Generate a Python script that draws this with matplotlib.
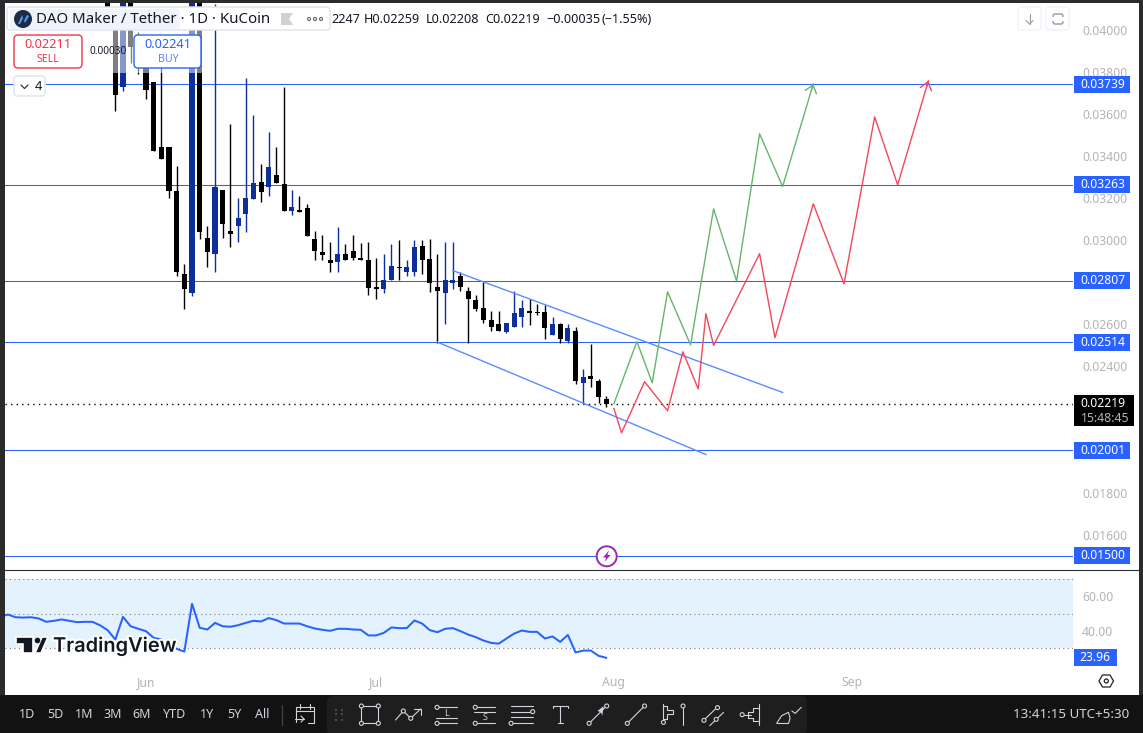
import matplotlib
matplotlib.use("Agg")
import matplotlib.pyplot as plt
import matplotlib.patheffects as pe
from matplotlib.patches import Rectangle, FancyBboxPatch, Circle, Polygon
import numpy as np

plt.rcParams['font.family'] = ['Noto Sans', 'DejaVu Sans']

# ---------- data ----------
day_index = list(range(-5, 61))
opens = [.04150,.04048,.03729,.04150,.03953,.03858,.03753,.03440,.03440,.03235,.02841,.02746,.04150,.03012,.02936,
         .03240,.03045,.03069,.03126,.03197,.03278,.03250,.03307,.03264,.03140,.03145,.03150,.03007,.02941,.02903,
         .02898,.02936,.02950,.02917,.02907,.02775,.02765,.02808,.02870,.02850,.02850,.02974,.02912,.02779,.02746,
         .02794,.02827,.02760,.02713,.02679,.02618,.02599,.02561,.02585,.02632,.02665,.02656,.02656,.02547,.02603,
         .02518,.02566,.02323,.02352,.02328,.02247]
highs = [.04180,.04048,.04180,.04180,.03990,.03905,.03753,.03820,.03440,.03354,.02884,.04180,.04180,.03069,.04120,
         .03240,.03549,.03202,.03772,.03596,.03359,.03511,.03444,.03729,.03240,.03207,.03169,.03045,.03026,.02993,
         .03060,.02983,.03026,.02988,.02993,.02917,.02936,.02983,.02998,.02903,.02998,.02998,.03003,.02936,.02993,
         .02993,.02850,.02779,.02737,.02803,.02665,.02665,.02608,.02756,.02713,.02722,.02694,.02689,.02632,.02608,
         .02599,.02585,.02385,.02504,.02342,.02259]
lows = [.04086,.03615,.03710,.03843,.03791,.03672,.03421,.03387,.03202,.02831,.02670,.02732,.03007,.02874,.02846,
        .03012,.02969,.02993,.03040,.03197,.03183,.03207,.03269,.03136,.03121,.03131,.03021,.02903,.02903,.02846,
        .02846,.02903,.02907,.02903,.02737,.02718,.02746,.02808,.02808,.02831,.02831,.02841,.02751,.02513,.02603,
        .02765,.02756,.02513,.02661,.02608,.02570,.02570,.02556,.02585,.02589,.02594,.02646,.02532,.02547,.02513,
        .02509,.02318,.02224,.02304,.02224,.02208]
closes = [.04086,.03691,.04150,.03915,.03858,.03715,.03425,.03387,.03231,.02846,.02765,.04150,.03040,.02941,.03254,
          .03074,.03031,.03107,.03202,.03269,.03226,.03349,.03269,.03136,.03159,.03131,.03021,.02950,.02927,.02893,
          .02936,.02903,.02917,.02903,.02770,.02765,.02812,.02879,.02865,.02870,.02965,.02907,.02798,.02760,.02808,
          .02812,.02775,.02718,.02670,.02622,.02589,.02570,.02608,.02651,.02675,.02651,.02651,.02580,.02599,.02532,
          .02580,.02328,.02347,.02342,.02252,.02219]

level_values = [.03739, .03263, .02807, .02514, .02001, .01500]
level_labels = ["0.03739", "0.03263", "0.02807", "0.02514", "0.02001", "0.01500"]
last_price = .02219
price_ticks = [.040,.038,.036,.034,.032,.030,.026,.024,.018,.016]
legend_items = ["2247", "H0.02259", "L0.02208", "C0.02219", "−0.00035", "(−1.55%)"]

channel_upper_x = [40, 83]
channel_upper_y = [.02855, .02276]
channel_lower_x = [38, 73]
channel_lower_y = [.02515, .01981]

green_x = [61, 64, 66, 68, 71, 74, 77, 80, 83, 87]
green_y = [.02222,.02518,.02322,.02754,.02502,.03148,.02806,.03505,.03254,.03742]
red_x = [61, 62, 65, 68, 70, 72, 73, 74, 80, 82, 87, 91, 95, 98, 102]
red_y = [.02200,.02084,.02327,.02189,.02469,.02293,.02650,.02499,.02935,.02536,.03172,.02792,.03585,.03262,.03756]

rsi_x = list(range(-19, 61))
rsi_y = [48.0,49.4,47.8,47.6,47.8,47.1,45.1,45.7,46.5,45.7,44.9,45.1,45.1,43.1,40.2,34.7,48.0,42.5,41.0,
         39.6,35.7,34.7,32.7,29.2,27.6,55.7,41.6,40.6,44.5,42.5,42.2,43.1,44.5,45.7,45.3,47.3,46.1,44.1,44.1,44.1,
         42.5,41.2,40.4,39.8,41.0,41.0,40.6,40.4,37.1,37.1,38.6,41.8,41.4,41.4,45.9,44.1,40.2,39.0,41.0,41.4,39.6,
         37.6,36.1,34.1,32.7,32.3,35.3,38.2,40.0,39.2,39.2,35.3,36.5,33.3,37.4,27.1,28.2,28.2,25.1,23.96]
rsi_ticks = [60, 40]
month_ticks = [0, 30, 61, 92]
month_labels = ["Jun", "Jul", "Aug", "Sep"]
range_buttons = ["1D", "5D", "1M", "3M", "6M", "YTD", "1Y", "5Y", "All"]

# ---------- palette ----------
BLUE = "#2962ff"; DARKBLUE = "#0d2f9a"; CH = "#5c8bff"
GREEN = "#66b56b"; RED = "#f4475a"; GRAY = "#b4b4b4"; FRAME = "#2b2b2b"; BAR = "#121212"
W, H = 1143, 733

fig = plt.figure(figsize=(W/100, H/100), dpi=100, facecolor=FRAME)

def axes_px(l, t, r, b, **kw):
    return fig.add_axes([l/W, 1-b/H, (r-l)/W, (b-t)/H], **kw)

L, R = 5, 1073
PX_DAY = 7.67
xlim = ((L-146)/PX_DAY, (R-146)/PX_DAY)

# white backing of the chart, price axis included
bg = axes_px(L, 3, 1139, 695); bg.axis("off"); bg.add_patch(Rectangle((0,0),1,1,transform=bg.transAxes,fc="white",ec="none"))

# ---------- price pane ----------
ax = axes_px(L, 2.5, R, 568.5, facecolor="none")
ax.set_xlim(*xlim); ax.set_ylim(.014397, .041283)
for s in ax.spines.values(): s.set_visible(False)
ax.set_xticks([])
ax.yaxis.tick_right()
ax.set_yticks(price_ticks, [f"{v:.5f}" for v in price_ticks])
ax.tick_params(axis="y", length=0, pad=6.5, labelcolor=GRAY, labelsize=8.8)

for v in level_values:
    ax.axhline(v, color=BLUE, lw=0.75, zorder=1)
ax.axhline(last_price, color="black", lw=1.0, ls=(0, (1, 3)), zorder=1)

o, h, l, c = map(np.array, (opens, highs, lows, closes))
x = np.array(day_index)
cols = [DARKBLUE if cc > oo else "black" for oo, cc in zip(o, c)]
ax.vlines(x, l, h, colors=cols, lw=1.0, zorder=3)
ax.bar(x, np.maximum(np.abs(c-o), .00006), bottom=np.minimum(o, c), width=0.66, color=cols, zorder=3, linewidth=0)

ax.plot(channel_upper_x, channel_upper_y, color=CH, lw=1.0, zorder=4)
ax.plot(channel_lower_x, channel_lower_y, color=CH, lw=1.0, zorder=4)
ax.plot(green_x, green_y, color=GREEN, lw=1.0, zorder=5)
ax.plot(red_x, red_y, color=RED, lw=1.0, zorder=5)
for xs, ys, col in ((green_x, green_y, GREEN), (red_x, red_y, RED)):
    start = (xs[-1] - 0.06*(xs[-1]-xs[-2]), ys[-1] - 0.06*(ys[-1]-ys[-2]))
    ax.annotate("", xy=(xs[-1], ys[-1]), xytext=start, zorder=5,
                arrowprops=dict(arrowstyle="->,head_length=0.45,head_width=0.35", color=col, lw=1.0,
                                shrinkA=0, shrinkB=0, mutation_scale=12))

# ---------- RSI pane ----------
ax2 = axes_px(L, 569.5, R, 667.5, facecolor="none")
ax2.set_xlim(*xlim); ax2.set_ylim(18.24, 75.88)
for s in ax2.spines.values(): s.set_visible(False)
ax2.axhspan(30, 70, color="#e3f2fd", lw=0, zorder=1)
for v in (70, 50, 30):
    ax2.axhline(v, color="#787b86", lw=0.8, ls=(0, (1, 3)), zorder=2)
ax2.plot(rsi_x, rsi_y, color=BLUE, lw=1.45, zorder=3)
ax2.yaxis.tick_right()
ax2.set_yticks(rsi_ticks, [f"{v:.2f}" for v in rsi_ticks])
ax2.tick_params(axis="y", length=0, pad=6.5, labelcolor=GRAY, labelsize=8.8)
ax2.set_xticks(month_ticks, month_labels)
ax2.tick_params(axis="x", length=0, pad=6, labelcolor=GRAY, labelsize=8.8)
for t in ax2.get_xticklabels(): t.set_fontweight("bold")

# ---------- chrome overlay in pixel coordinates ----------
ui = fig.add_axes([0, 0, 1, 1], facecolor="none", zorder=10)
ui.set_xlim(0, W); ui.set_ylim(H, 0); ui.axis("off")

def rbox(x0, y0, x1, y1, fc="white", ec="none", r=3, lw=1.0, z=2, alpha=None):
    ui.add_patch(FancyBboxPatch((x0+r, y0+r), x1-x0-2*r, y1-y0-2*r, boxstyle=f"round,pad={r},rounding_size={r}",
                                fc=fc, ec=ec, lw=lw, zorder=z, alpha=alpha))
def txt(x, y, s, size=9, color="#131722", ha="center", weight="normal", z=6, **kw):
    return ui.text(x, y, s, fontsize=size, color=color, ha=ha, va="center", fontweight=weight, zorder=z, **kw)
def seg(xs, ys, color="#d1d4dc", lw=0.8, z=6):
    ui.plot(xs, ys, color=color, lw=lw, zorder=z, solid_capstyle="round")
def dot(x, y, r=2.0, ec="#d1d4dc", fc=BAR, lw=0.8, z=7):
    ui.add_patch(Circle((x, y), r, fc=fc, ec=ec, lw=lw, zorder=z))

# separator, frame, bottom bar
ui.plot([L, 1139], [569.5, 569.5], color="#2a2e39", lw=0.8, zorder=1)
ui.add_patch(Rectangle((0, 695), W, 38, fc=BAR, ec="none", zorder=1))

# price labels on the axis, positioned through the price scale
def py(v):
    return H - ax.transData.transform((0, v))[1]
for v, s in zip(level_values, level_labels):
    yy = py(v)
    ui.add_patch(Rectangle((1074, yy-8.5), 56, 17, fc=BLUE, ec="none", zorder=3))
    txt(1103, yy-0.3, s, 8.7, "white", weight="bold")
yy = py(last_price)
ui.add_patch(Rectangle((1074, yy-9), 60, 31, fc="black", ec="none", zorder=3))
txt(1103, yy-1, f"{last_price:.5f}", 8.7, "white", weight="bold")
txt(1105, yy+14, "15:48:45", 8.8, "#b4b4b4")
ry = H - ax2.transData.transform((0, rsi_y[-1]))[1]
ui.add_patch(Rectangle((1074, ry-8.5), 42.5, 17, fc=BLUE, ec="none", zorder=3))
txt(1095, ry-0.3, f"{rsi_y[-1]:.2f}", 8.7, "white", weight="bold")

# translucent legend veil and header
ui.add_patch(Rectangle((8, 30), 197, 43, fc="white", ec="none", alpha=0.5, zorder=1))
rbox(7, 7, 330, 30, fc="white", ec="#e0e3eb", r=3, z=2)
rbox(10, 9, 180, 29, fc="#f0f3fa", r=3, z=3)
ui.add_patch(Circle((23, 19), 9, fc="#1e2a4a", ec="none", zorder=4))
ui.add_patch(Polygon([[18,24],[22,15],[24,21],[27,15],[29,16],[25,23],[23,18],[20,24]], fc="#4aa3f0", ec="none", zorder=5))
txt(36, 19.5, "DAO Maker / Tether · 1D · KuCoin", 10.8, ha="left")
ui.add_patch(Polygon([[281,13],[293,13],[289,19],[293,25],[281,25]], fc="#d1d1d1", ec="none", zorder=5))
for cx in (309, 315, 321):
    ui.add_patch(Circle((cx, 19), 1.5, fc="white", ec="#666666", lw=0.8, zorder=5))
for lx, s in zip((331, 364, 426, 485, 546, 602), legend_items):
    txt(lx, 19.5, s, 9.1, ha="left")

rbox(14, 35, 82, 68, fc="white", ec="#f23645", r=4, lw=1.0)
txt(48, 45, "0.02211", 9.2, "#f23645", weight="bold"); txt(48, 59, "SELL", 7.6, "#f23645")
txt(108, 51.5, "0.00030", 7.2, "#131722")
rbox(134, 35, 201, 68, fc="white", ec=BLUE, r=4, lw=1.0)
txt(168, 45, "0.02241", 9.2, BLUE, weight="bold"); txt(168, 59, "BUY", 7.6, "#5b86ff")
rbox(14, 76, 45, 96, fc="white", ec="#e0e3eb", r=3)
seg([21, 24.5, 28], [85, 88.5, 85], color="#333333", lw=0.9)
txt(38, 86.5, "4", 9.2)

# top-right buttons
for x0 in (1018, 1046):
    rbox(x0, 7, x0+23, 30, fc="white", ec="#f0f3fa", r=3)
seg([1029.5, 1029.5], [14, 24], color="#9a9a9a"); seg([1026, 1029.5, 1033], [20.5, 24, 20.5], color="#9a9a9a")
rbox(1053, 14, 1063, 24, fc="white", ec="#9a9a9a", r=2)
ui.add_patch(Rectangle((1051, 17), 14, 4, fc="white", ec="none", zorder=5))

# lightning marker
ui.add_patch(Circle((606.7, 556.3), 10, fc="white", ec="#9c27b0", lw=1.4, zorder=4))
ui.add_patch(Polygon([[609,550.5],[603,557.5],[606.2,557.5],[604.5,562],[610.5,555],[607.4,555]], fc="#9c27b0", ec="none", zorder=5))

# TradingView mark
wm = txt(53, 646.5, "TradingView", 14.4, "#131722", ha="left", weight="semibold", family=["Inter", "DejaVu Sans"])
wm.set_path_effects([pe.withStroke(linewidth=3, foreground="white")])
for pts in ([[16,637],[33,637],[33,653],[23,653],[23,644],[16,644]], [[35,653],[42,637],[48,637],[41,653]]):
    ui.add_patch(Polygon(pts, fc="#131722", ec="white", lw=1.2, zorder=6))
ui.add_patch(Circle((37.5, 640.5), 2.8, fc="#131722", ec="none", zorder=7))

# settings hexagon
ui.add_patch(Polygon([[1099,681],[1102.5,675],[1110,675],[1113.5,681],[1110,687],[1102.5,687]], fc="white", ec="#222222", lw=0.9, zorder=5))
ui.add_patch(Circle((1106.3, 681), 2, fc="white", ec="#222222", lw=0.9, zorder=6))

# bottom bar text
for bx, s in zip((27, 55, 84, 113, 142, 175, 207, 234, 262), range_buttons):
    txt(bx, 715, s, 9, "#d1d4dc")
seg([281.5, 281.5], [705, 725], color="#444444", lw=0.9)
txt(1071, 715, "13:41:15 UTC+5:30", 9.6, "#d1d4dc")

# calendar icon
seg([296,296,314,314,308],[722,707,707,723,723]); seg([296,314],[711,711]); seg([300,300],[704,709]); seg([310,310],[704,709])
seg([295,304],[719,719]); seg([301,304,301],[716,719,722])

# drawing toolbar
rbox(327, 696, 807, 735, fc="#1e1e1e", r=6, z=2)
zx = lambda v: 280 + v/2.96
zy = lambda v: 695 + v/3
for gx in (165, 183):
    for gy in (45, 58, 75):
        ui.add_patch(Rectangle((zx(gx)-1, zy(gy)-1), 2, 2, fc="#4a4a4a", ec="none", zorder=6))
def zseg(*pts, **kw):
    seg([zx(p[0]) for p in pts], [zy(p[1]) for p in pts], **kw)
def zdot(a, b, r=2.0):
    dot(zx(a), zy(b), r, fc="#1e1e1e")
# rectangle
zseg((241,33),(291,33),(291,85),(241,85),(241,33))
for p in ((241,33),(291,33),(241,85),(291,85)): zdot(*p)
# polyline
zseg((342,75),(365,48),(387,70),(416,42)); zseg((398,42),(416,42),(416,60)); zdot(365,48); zdot(387,70)
# long / short
zseg((465,37),(524,37)); zseg((462,70),(524,70)); zseg((465,85),(524,85)); zdot(465,37); zdot(465,85)
txt(zx(493), zy(54), "L", 6.5, "#d1d4dc")
zseg((578,37),(636,37)); zseg((575,51),(636,51)); zseg((578,85),(636,85)); zdot(578,37); zdot(578,85)
txt(zx(606), zy(69), "S", 6.5, "#d1d4dc")
# fib
zseg((684,32),(748,32)); zseg((684,50),(748,50)); zseg((684,67),(748,67)); zseg((684,85),(748,85)); zdot(748,50); zdot(684,85)
# text tool
zseg((808,40),(808,33),(852,33),(852,40)); zseg((830,33),(830,85)); zseg((822,85),(838,85))
# arrow
zseg((915,85),(967,33)); zdot(915,85); zdot(967,33)
ui.add_patch(Polygon([[zx(958),zy(33)],[zx(940),zy(48)],[zx(950),zy(52)],[zx(954),zy(62)]], fc="#d1d4dc", ec="none", zorder=7))
# trend line
zseg((1028,85),(1079,33)); zdot(1028,85); zdot(1079,33)
# fixed range profile
zseg((1135,28),(1135,82)); zseg((1135,32),(1146,32),(1146,45),(1162,45),(1162,58),(1146,58),(1146,72),(1135,72)); zdot(1135,82)
zseg((1193,38),(1193,90)); zdot(1193,33)
# parallel segments
zseg((1250,80),(1298,33)); zseg((1272,92),(1313,52)); zdot(1255,76); zdot(1295,38); zdot(1291,73)
# volume profile
zseg((1418,28),(1418,90)); zseg((1372,59),(1395,59)); zdot(1368,59)
zseg((1418,40),(1400,40),(1400,50),(1385,50),(1385,68),(1400,68),(1400,78),(1418,78))
# brush
zseg((1470,85),(1505,85)); zseg((1470,85),(1485,62),(1505,52),(1510,70),(1505,85)); zseg((1515,48),(1525,55),(1543,37))

fig.savefig("out.png", dpi=100, facecolor=FRAME)
